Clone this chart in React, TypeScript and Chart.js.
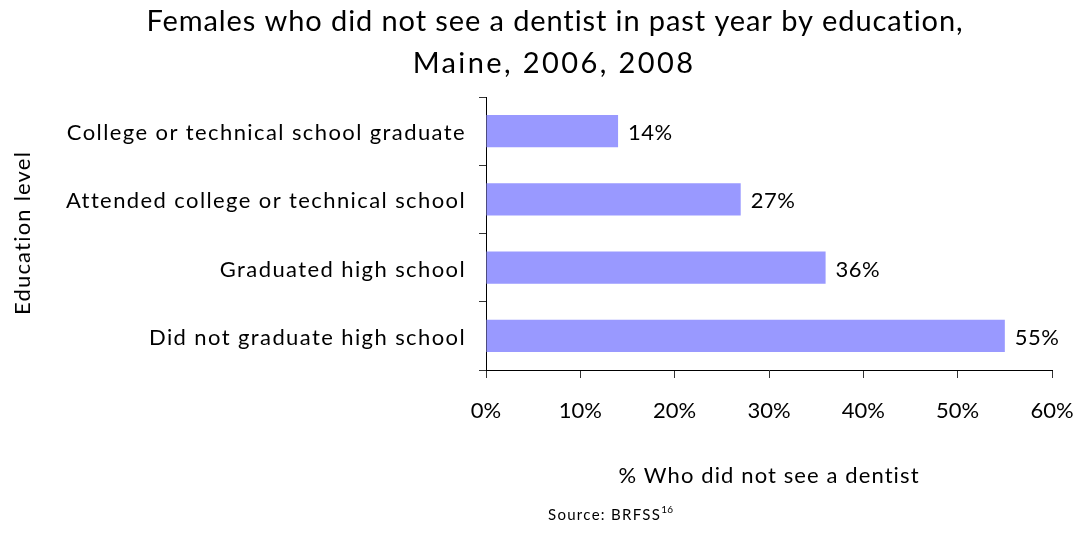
import React, { useEffect, useRef } from "react";
import { Chart, registerables } from "chart.js";

Chart.register(...registerables);

const categories = [
  "College or technical school graduate",
  "Attended college or technical school",
  "Graduated high school",
  "Did not graduate high school",
];
const values = [14, 27, 36, 55];
const xTicks = [0, 10, 20, 30, 40, 50, 60];
const titleLines = [
  "Females who did not see a dentist in past year by education,",
  "Maine, 2006, 2008",
];
const xTitle = "% Who did not see a dentist";
const yTitle = "Education level";
const sourceText = "Source: BRFSS";
const sourceSup = "16";

const FONT = "Lato, 'Open Sans', sans-serif";

const textPlugin = {
  id: "texts",
  afterDraw(chart: any) {
    const ctx = chart.ctx as any;
    const area = chart.chartArea;
    ctx.save();
    ctx.fillStyle = "#000";
    ctx.textBaseline = "alphabetic";

    // title
    ctx.textAlign = "center";
    ctx.font = `29px ${FONT}`;
    ctx.letterSpacing = "0.9px";
    ctx.fillText(titleLines[0], 555, 31);
    ctx.letterSpacing = "2.4px";
    ctx.fillText(titleLines[1], 554, 73);

    // category labels
    const ys = chart.scales.y;
    ctx.font = `22px ${FONT}`;
    ctx.letterSpacing = "1.4px";
    ctx.textAlign = "right";
    categories.forEach((c, i) => {
      ctx.fillText(c, area.left - 20, ys.getPixelForValue(i) + 9);
    });

    // x tick labels
    const xs = chart.scales.x;
    ctx.letterSpacing = "0px";
    ctx.textAlign = "center";
    xTicks.forEach((v) => {
      ctx.fillText(v + "%", xs.getPixelForValue(v), 418);
    });

    // data labels
    const meta = chart.getDatasetMeta(0);
    ctx.letterSpacing = "0.5px";
    ctx.textAlign = "left";
    meta.data.forEach((bar: any, i: number) => {
      ctx.fillText(values[i] + "%", bar.x + 10, bar.y + 9);
    });

    // x axis title
    ctx.letterSpacing = "1.1px";
    ctx.textAlign = "center";
    ctx.fillText(xTitle, (area.left + area.right) / 2, 483);

    // y axis title
    ctx.save();
    ctx.translate(30, 233);
    ctx.rotate(-Math.PI / 2);
    ctx.letterSpacing = "1.2px";
    ctx.fillText(yTitle, 0, 0);
    ctx.restore();

    // source
    ctx.font = `15px ${FONT}`;
    ctx.letterSpacing = "1.3px";
    ctx.textAlign = "left";
    ctx.fillText(sourceText, 548, 520);
    const w = ctx.measureText(sourceText).width;
    ctx.font = `10px ${FONT}`;
    ctx.letterSpacing = "0.3px";
    ctx.fillText(sourceSup, 548 + w, 513);
    ctx.restore();
  },
};

export default function App() {
  const ref = useRef<HTMLCanvasElement>(null);
  useEffect(() => {
    if (!ref.current) return;
    const chart = new Chart(ref.current, {
      type: "bar",
      data: {
        labels: categories,
        datasets: [
          {
            data: values,
            backgroundColor: "#9999FF",
            borderWidth: 0,
            barPercentage: 0.47,
            categoryPercentage: 1,
          },
        ],
      },
      options: {
        responsive: false,
        animation: false,
        indexAxis: "y",
        layout: { padding: { top: 97, right: 28, bottom: 0, left: 0 } },
        plugins: {
          legend: { display: false },
          title: { display: false },
          tooltip: { enabled: false },
        },
        scales: {
          x: {
            min: 0,
            max: 60,
            afterBuildTicks: (s: any) => {
              s.ticks = xTicks.map((v) => ({ value: v }));
            },
            ticks: { display: false },
            grid: { drawOnChartArea: false, drawTicks: true, tickLength: 8, color: "#333" },
            border: { color: "#000", width: 1 },
            afterFit: (s: any) => {
              s.height = 535 - 370;
              s.paddingLeft = 0;
              s.paddingRight = 0;
            },
          },
          y: {
            ticks: { display: false },
            grid: { drawOnChartArea: false, tickLength: 7, color: "#333", offset: true },
            border: { color: "#000", width: 1 },
            afterFit: (s: any) => {
              s.width = 486;
              s.paddingTop = 0;
              s.paddingBottom = 0;
            },
          },
        },
      } as any,
      plugins: [textPlugin],
    });
    return () => chart.destroy();
  }, []);
  return (
    <div style={{ position: "absolute", left: 0, top: 0, width: 1080, height: 535, background: "#fff" }}>
      <canvas ref={ref} width={1080} height={535} />
    </div>
  );
}
